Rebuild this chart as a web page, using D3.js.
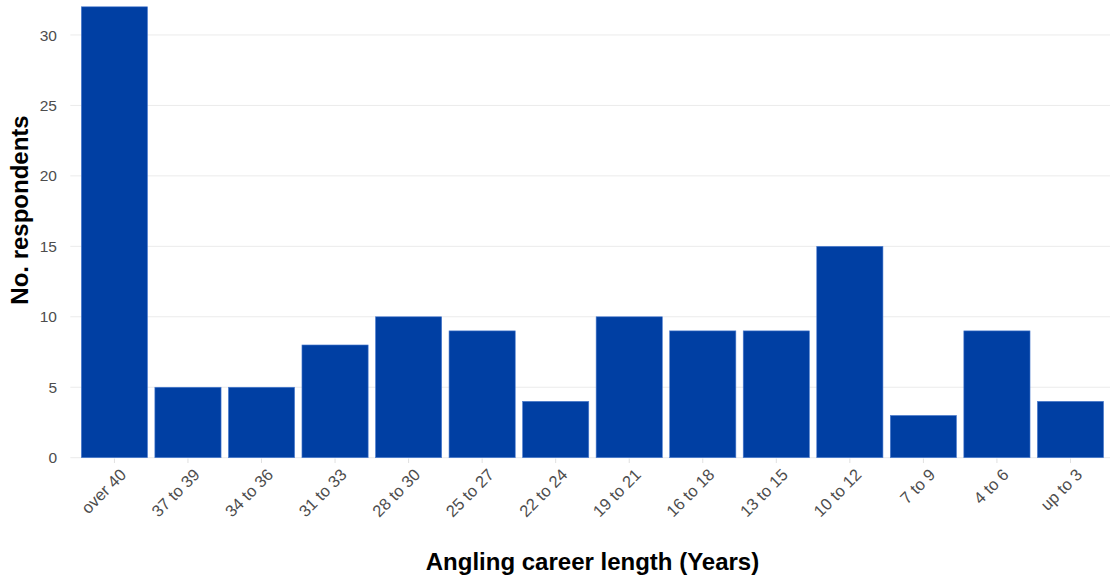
<!DOCTYPE html>
<html>
<head>
<meta charset="utf-8">
<script src="https://cdn.jsdelivr.net/npm/d3@7"></script>
<style>
  body { margin: 0; background: #fff; }
  svg { display: block; font-family: "Liberation Sans", Arial, sans-serif; }
</style>
</head>
<body>
<div id="chart"></div>
<script>
// career length groups, longest first
var categories = ["over 40", "37 to 39", "34 to 36", "31 to 33", "28 to 30", "25 to 27", "22 to 24",
                  "19 to 21", "16 to 18", "13 to 15", "10 to 12", "7 to 9", "4 to 6", "up to 3"];
var respondents = [32, 5, 5, 8, 10, 9, 4, 10, 9, 9, 15, 3, 9, 4];
var yTicks = [0, 5, 10, 15, 20, 25, 30];

var width = 1110, height = 578;

var svg = d3.select("#chart")
    .append("svg")
    .attr("width", width)
    .attr("height", height);

// panel runs off the right edge like the original
var x = d3.scaleBand()
    .domain(categories)
    .range([70.3, 1114.6])
    .paddingInner(0.1)
    .paddingOuter(0.15);

var y = d3.scaleLinear()
    .domain([0, 32])
    .range([457.7, 6.8]);

// gridlines
svg.append("g")
    .selectAll("line")
    .data(yTicks)
    .enter().append("line")
    .attr("x1", 70.3)
    .attr("x2", width)
    .attr("y1", d => y(d))
    .attr("y2", d => y(d))
    .style("stroke", "#ebebeb")
    .style("stroke-width", 1);

// y tick labels
svg.append("g")
    .selectAll("text")
    .data(yTicks)
    .enter().append("text")
    .attr("x", 57)
    .attr("y", d => y(d))
    .attr("dy", "0.36em")
    .style("text-anchor", "end")
    .style("font-size", "15.5px")
    .style("fill", "#4d4d4d")
    .text(d => d);

// x ticks
svg.append("g")
    .selectAll("line")
    .data(categories)
    .enter().append("line")
    .attr("x1", d => x(d) + x.bandwidth() / 2)
    .attr("x2", d => x(d) + x.bandwidth() / 2)
    .attr("y1", 458.5)
    .attr("y2", 463)
    .style("stroke", "#e0e0e0")
    .style("stroke-width", 1);

// bars
svg.append("g")
    .selectAll("rect")
    .data(categories)
    .enter().append("rect")
    .attr("x", d => x(d))
    .attr("width", x.bandwidth())
    .attr("y", (d, i) => y(respondents[i]))
    .attr("height", (d, i) => y(0) - y(respondents[i]))
    .style("fill", "#003fa3")
    .style("stroke", "#4f7fd0")
    .style("stroke-width", 0.6);

// rotated x labels
svg.append("g")
    .selectAll("text")
    .data(categories)
    .enter().append("text")
    .attr("transform", d => "translate(" + (x(d) + x.bandwidth() / 2 + 4) + ",467) rotate(-45)")
    .attr("dy", "0.75em")
    .style("text-anchor", "end")
    .style("font-size", "16.5px")
    .style("fill", "#4d4d4d")
    .text(d => d);

// axis titles
svg.append("text")
    .attr("x", 592.5)
    .attr("y", 570)
    .style("text-anchor", "middle")
    .style("font-size", "24px")
    .style("font-weight", "bold")
    .style("fill", "#000")
    .text("Angling career length (Years)");

svg.append("text")
    .attr("transform", "translate(28,210) rotate(-90)")
    .style("text-anchor", "middle")
    .style("font-size", "24px")
    .style("font-weight", "bold")
    .style("fill", "#000")
    .text("No. respondents");
</script>
</body>
</html>
